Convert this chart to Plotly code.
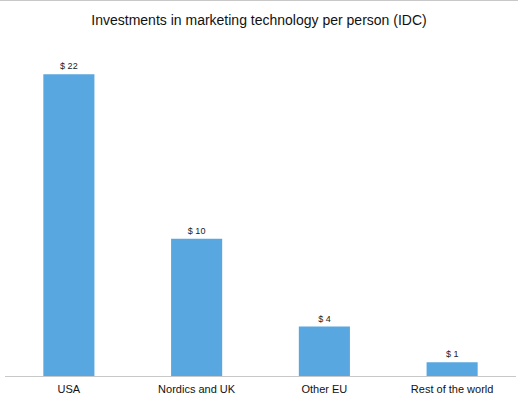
import plotly.graph_objects as go

categories = ["USA", "Nordics and UK", "Other EU", "Rest of the world"]
values = [22, 10, 3.6, 1.0]
value_labels = ["$ 22", "$ 10", "$ 4", "$ 1"]

fig = go.Figure(go.Bar(
    x=categories,
    y=values,
    text=value_labels,
    textposition="outside",
    textfont=dict(family="Liberation Sans, Arial", size=9, color="#222222"),
    marker=dict(color="#58a7e1", line=dict(width=0)),
    width=0.4,
    cliponaxis=False,
    hoverinfo="skip",
))

fig.update_layout(
    width=518, height=398,
    margin=dict(l=5, r=2, t=33, b=22),
    paper_bgcolor="white", plot_bgcolor="white",
    title=dict(text="Investments in marketing technology per person (IDC)",
               x=0.5, xanchor="center", y=1 - 20/398, yanchor="middle",
               font=dict(family="Liberation Sans, Arial", size=14, color="#111111")),
    showlegend=False,
    xaxis=dict(showline=True, linecolor="#c8c8c8", linewidth=1, ticks="",
               tickfont=dict(family="Liberation Sans, Arial", size=11, color="#111111"),
               ticklabelstandoff=3,
               showgrid=False, fixedrange=True, automargin=False),
    yaxis=dict(range=[0, 25], visible=False, showgrid=False, fixedrange=True),
    shapes=[dict(type="line", xref="paper", yref="paper", x0=-0.02, x1=1.02,
                 y0=1 + 33/343, y1=1 + 33/343, line=dict(color="#c8c8c8", width=2))],
)

fig.write_html("out.html", config={"displayModeBar": False},
               post_script="document.body.style.margin='0';document.body.style.overflow='hidden';")
